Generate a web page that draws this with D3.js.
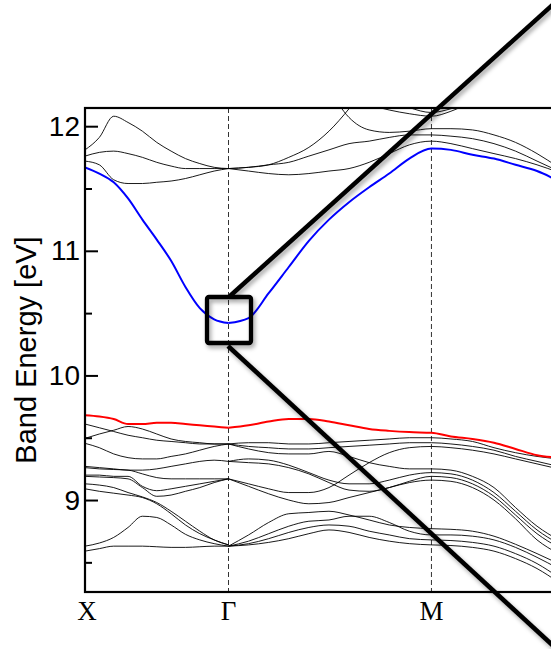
<!DOCTYPE html>
<html>
<head>
<meta charset="utf-8">
<script src="https://d3js.org/d3.v7.min.js"></script>
<style>
  body { margin: 0; background: #fff; }
  svg { display: block; }
</style>
</head>
<body>
<svg id="chart" width="551" height="649"></svg>
<script>
// k path: X -> Gamma is 1 unit, Gamma -> M is sqrt(2) units
var kXG = [0, 0.1, 0.2, 0.3, 0.4, 0.5, 0.6, 0.7, 0.8, 0.9, 1.0];
var kGM = [1.0, 1.14, 1.28, 1.42, 1.56, 1.70, 1.84, 1.98, 2.12, 2.26, 2.414, 2.55, 2.7, 2.85, 3.0, 3.15, 3.3];

var kLabels = ["X", "Γ", "M"];
var kLabelPos = [0, 1, 1 + Math.SQRT2];
var kDashed = [1, 1 + Math.SQRT2];

var yMajor = [9, 10, 11, 12];
var yMinor = [8.5, 9.5, 10.5, 11.5];

// highlighted bands
var blueXG = [11.67, 11.62, 11.55, 11.42, 11.25, 11.09, 10.92, 10.71, 10.54, 10.45, 10.42];
var blueGM = [10.42, 10.46, 10.66, 10.87, 11.08, 11.25, 11.39, 11.51, 11.62, 11.74, 11.82, 11.81, 11.77, 11.74, 11.69, 11.64, 11.56];
var redXG = [9.68, 9.67, 9.65, 9.61, 9.61, 9.62, 9.62, 9.61, 9.60, 9.59, 9.58];
var redGM = [9.58, 9.60, 9.63, 9.65, 9.65, 9.63, 9.60, 9.57, 9.555, 9.545, 9.54, 9.51, 9.49, 9.46, 9.41, 9.36, 9.34];

// other bands, X -> Gamma
var blackXG = [
  [11.81, 11.91, 12.08, 12.03, 11.96, 11.87, 11.80, 11.74, 11.70, 11.67, 11.66],
  [11.76, 11.79, 11.80, 11.78, 11.75, 11.71, 11.68, 11.66, 11.66, 11.66, 11.66],
  [11.72, 11.69, 11.57, 11.54, 11.54, 11.55, 11.56, 11.58, 11.61, 11.64, 11.66],
  [9.61, 9.58, 9.55, 9.52, 9.50, 9.48, 9.47, 9.46, 9.45, 9.45, 9.45],
  [9.495, 9.53, 9.56, 9.59, 9.57, 9.53, 9.49, 9.47, 9.46, 9.45, 9.45],
  [9.455, 9.42, 9.37, 9.34, 9.33, 9.33, 9.35, 9.37, 9.40, 9.43, 9.45],
  [9.27, 9.26, 9.25, 9.24, 9.24, 9.25, 9.27, 9.29, 9.31, 9.32, 9.31],
  [9.26, 9.25, 9.245, 9.24, 9.21, 9.18, 9.17, 9.17, 9.17, 9.17, 9.17],
  [9.20, 9.20, 9.19, 9.19, 9.11, 9.075, 9.09, 9.11, 9.13, 9.15, 9.17],
  [9.19, 9.185, 9.18, 9.17, 9.10, 9.03, 9.04, 9.07, 9.10, 9.14, 9.17],
  [9.13, 9.12, 9.10, 9.06, 9.025, 8.98, 8.91, 8.83, 8.75, 8.68, 8.64],
  [9.09, 9.07, 9.055, 9.04, 9.02, 8.97, 8.89, 8.80, 8.73, 8.68, 8.64],
  [8.63, 8.655, 8.70, 8.78, 8.87, 8.86, 8.80, 8.725, 8.68, 8.65, 8.63],
  [8.59, 8.61, 8.63, 8.63, 8.63, 8.625, 8.62, 8.62, 8.625, 8.63, 8.63]
];

// other bands, Gamma -> M -> (towards X)
var blackGM = [
  [11.66, 11.67, 11.69, 11.75, 11.83, 11.96, 12.14, 12.35, null, null, null, null, null, null, null, null, null],
  [null, null, null, null, null, 12.30, 12.07, 11.97, 11.95, 11.96, 11.98, 11.98, 11.97, 11.93, 11.87, 11.78, 11.67],
  [11.66, 11.67, 11.69, 11.71, 11.76, 11.81, 11.86, 11.88, 11.91, 11.93, 11.93, 11.92, 11.90, 11.86, 11.80, 11.72, 11.64],
  [11.66, 11.64, 11.62, 11.61, 11.62, 11.64, 11.66, 11.71, 11.78, 11.85, 11.88, 11.86, 11.82, 11.78, 11.74, 11.69, 11.63],
  [null, null, null, null, null, null, null, 12.17, 12.13, 12.10, 12.08, 12.12, 12.20, null, null, null, null],
  [null, null, null, null, null, null, null, null, null, 12.15, 12.11, 12.14, 12.20, null, null, null, null],
  [9.45, 9.46, 9.46, 9.45, 9.45, 9.46, 9.47, 9.48, 9.49, 9.50, 9.50, 9.49, 9.47, 9.42, 9.38, 9.35, 9.33],
  [9.45, 9.43, 9.42, 9.41, 9.41, 9.42, 9.43, 9.44, 9.45, 9.46, 9.46, 9.45, 9.43, 9.40, 9.35, 9.31, 9.27],
  [9.45, 9.41, 9.38, 9.37, 9.37, 9.39, 9.35, 9.30, 9.27, 9.25, 9.25, 9.24, 9.19, 9.10, 8.94, 8.79, 8.68],
  [9.31, 9.33, 9.32, 9.28, 9.22, 9.16, 9.13, 9.13, 9.16, 9.20, 9.22, 9.21, 9.16, 9.06, 8.91, 8.76, 8.65],
  [9.31, 9.30, 9.29, 9.26, 9.21, 9.14, 9.08, 9.07, 9.10, 9.15, 9.19, 9.18, 9.13, 9.03, 8.88, 8.73, 8.62],
  [9.17, 9.13, 9.09, 9.06, 9.06, 9.10, 9.20, 9.30, 9.38, 9.42, 9.43, 9.42, 9.40, 9.37, 9.33, 9.29, 9.25],
  [9.17, 9.11, 9.05, 9.00, 8.97, 8.98, 9.02, 9.06, 9.10, 9.14, 9.16, 9.15, 9.10, 9.00, 8.85, 8.68, 8.57],
  [8.63, 8.72, 8.82, 8.89, 8.90, 8.91, 8.88, 8.84, 8.80, 8.78, 8.77, 8.765, 8.75, 8.71, 8.645, 8.57, 8.49],
  [8.63, 8.67, 8.73, 8.79, 8.83, 8.84, 8.87, 8.87, 8.82, 8.75, 8.72, 8.72, 8.71, 8.68, 8.62, 8.54, 8.45],
  [8.63, 8.65, 8.69, 8.74, 8.78, 8.80, 8.79, 8.75, 8.72, 8.69, 8.68, 8.675, 8.66, 8.63, 8.57, 8.49, 8.38],
  [8.63, 8.64, 8.66, 8.69, 8.73, 8.76, 8.74, 8.70, 8.67, 8.65, 8.64, 8.635, 8.62, 8.59, 8.53, 8.45, 8.34]
];

var svg = d3.select("#chart");

var kMax = 2 + Math.SQRT2;
var x = d3.scaleLinear().domain([0, kMax]).range([85, 85 + kMax * 143.5]);
var y = d3.scaleLinear().domain([8.262, 12.146]).range([592, 108]);

var defs = svg.append("defs");
defs.append("clipPath").attr("id", "plotclip")
  .append("rect")
  .attr("x", x(0)).attr("y", y(12.146))
  .attr("width", x(kMax) - x(0)).attr("height", y(8.262) - y(12.146));

defs.append("filter").attr("id", "shadow")
  .attr("filterUnits", "userSpaceOnUse")
  .attr("x", 0).attr("y", 0).attr("width", 551).attr("height", 649)
  .append("feDropShadow")
  .attr("dx", 2).attr("dy", 3).attr("stdDeviation", 2)
  .attr("flood-color", "#000").attr("flood-opacity", 0.35);

// dashed high-symmetry lines
svg.append("g").selectAll("line").data(kDashed).join("line")
  .attr("x1", d => x(d)).attr("x2", d => x(d))
  .attr("y1", y(12.146)).attr("y2", y(8.262))
  .attr("stroke", "#333").attr("stroke-width", 1)
  .attr("stroke-dasharray", "5,3");

var line = d3.line()
  .defined(d => d[1] != null)
  .x(d => x(d[0]))
  .y(d => y(d[1]))
  .curve(d3.curveMonotoneX);

function pairs(ks, vals) {
  return ks.map(function(k, i) { return [k, vals[i]]; });
}

var bands = svg.append("g").attr("clip-path", "url(#plotclip)");

//plain bands
blackXG.forEach(function(b) {
  bands.append("path").attr("d", line(pairs(kXG, b)))
    .attr("fill", "none").attr("stroke", "#000").attr("stroke-width", 0.9);
});
blackGM.forEach(function(b) {
  bands.append("path").attr("d", line(pairs(kGM, b)))
    .attr("fill", "none").attr("stroke", "#000").attr("stroke-width", 0.9);
});

//highlighted bands
[[blueXG, blueGM, "#0000ff"], [redXG, redGM, "#ff0000"]].forEach(function(h) {
  bands.append("path").attr("d", line(pairs(kXG, h[0])))
    .attr("fill", "none").attr("stroke", h[2]).attr("stroke-width", 2);
  bands.append("path").attr("d", line(pairs(kGM, h[1])))
    .attr("fill", "none").attr("stroke", h[2]).attr("stroke-width", 2);
});

// frame
svg.append("rect")
  .attr("x", x(0)).attr("y", y(12.146))
  .attr("width", x(kMax) - x(0)).attr("height", y(8.262) - y(12.146))
  .attr("fill", "none").attr("stroke", "#000").attr("stroke-width", 2.2);

// y axis, ticks pointing inwards
var yAxis = svg.append("g")
  .attr("transform", "translate(" + x(0) + ",0)")
  .call(d3.axisLeft(y).tickValues(yMajor).tickSizeInner(-13).tickSizeOuter(0).tickPadding(5).tickFormat(d3.format("d")));
yAxis.select(".domain").remove();
yAxis.selectAll(".tick line").attr("stroke-width", 2);
yAxis.selectAll("text")
  .attr("font-family", "'Liberation Sans', Arial, sans-serif")
  .attr("font-size", 28).attr("fill", "#000");

var yMinorAxis = svg.append("g")
  .attr("transform", "translate(" + x(0) + ",0)")
  .call(d3.axisLeft(y).tickValues(yMinor).tickSizeInner(-7).tickSizeOuter(0).tickFormat(""));
yMinorAxis.select(".domain").remove();
yMinorAxis.selectAll(".tick line").attr("stroke-width", 2);

svg.append("text")
  .attr("transform", "translate(36,350) rotate(-90)")
  .attr("text-anchor", "middle")
  .attr("font-family", "'Liberation Sans', Arial, sans-serif")
  .attr("font-size", 29)
  .text("Band Energy [eV]");

// k-point labels
svg.append("g").selectAll("text").data(kLabels).join("text")
  .attr("x", (d, i) => x(kLabelPos[i]) + (i == 0 ? 2 : 0))
  .attr("y", 620)
  .attr("text-anchor", "middle")
  .attr("font-family", "'Liberation Serif', 'Times New Roman', serif")
  .attr("font-size", 27)
  .text(d => d);

// zoom box and lines out to the inset
var zoomG = svg.append("g").attr("filter", "url(#shadow)");
zoomG.append("line")
  .attr("x1", 230).attr("y1", 296).attr("x2", 600).attr("y2", -38)
  .attr("stroke", "#000").attr("stroke-width", 4.5);
zoomG.append("line")
  .attr("x1", 228).attr("y1", 346).attr("x2", 600).attr("y2", 689)
  .attr("stroke", "#000").attr("stroke-width", 4.5);
zoomG.append("rect")
  .attr("x", 207).attr("y", 297).attr("width", 44).attr("height", 46)
  .attr("rx", 2)
  .attr("fill", "none").attr("stroke", "#000").attr("stroke-width", 4.3);
</script>
</body>
</html>
